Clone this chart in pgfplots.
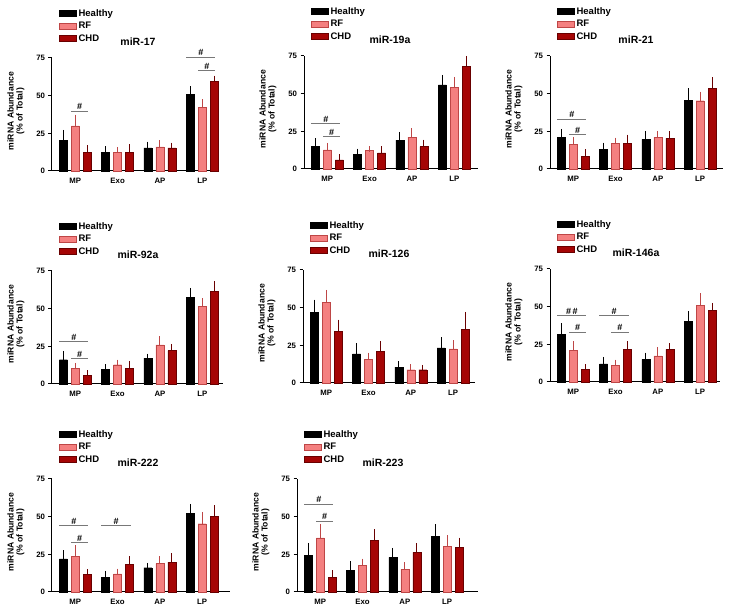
\documentclass[border=0pt]{standalone}
\usepackage{fontspec}
\setmainfont{Liberation Sans}
\usepackage{pgfplots}
\usepackage{pgfplotstable}
\pgfplotsset{compat=1.18}

\definecolor{rfc}{RGB}{244,128,128}
\definecolor{rfd}{RGB}{190,70,70}
\definecolor{chdc}{RGB}{165,5,5}
\definecolor{chdd}{RGB}{105,0,0}
\definecolor{sigc}{RGB}{120,120,120}

% columns: group, Healthy, err, RF, err, CHD, err
\pgfplotstableread{
x h he r re c ce
0 20.4 5.0 30.0 5.5 12.2 3.0
1 12.6 1.8 12.2 1.6 12.6 3.3
2 15.3 2.4 16.0 2.6 15.3 1.6
3 51.0 3.4 42.2 3.5 59.7 1.8
}\tabA
\pgfplotstableread{
x h he r re c ce
0 14.9 3.6 12.7 2.7 6.0 2.0
1 9.8 1.8 12.2 0.9 10.7 2.4
2 19.1 3.6 21.1 4.2 14.9 2.7
3 55.9 4.7 54.3 4.9 68.3 4.9
}\tabB
\pgfplotstableread{
x h he r re c ce
0 20.9 3.8 16.4 3.1 8.4 2.7
1 12.9 2.7 16.9 2.0 16.9 4.0
2 19.7 3.8 20.9 2.6 20.4 2.7
3 45.7 6.0 45.3 4.2 53.5 5.5
}\tabC
\pgfplotstableread{
x h he r re c ce
0 16.1 4.0 10.6 1.5 5.7 1.6
1 9.5 1.8 12.8 1.5 10.6 2.9
2 17.2 1.1 26.0 3.8 22.1 2.6
3 57.6 4.4 51.4 3.7 61.3 5.1
}\tabD
\pgfplotstableread{
x h he r re c ce
0 46.8 6.6 53.4 6.6 34.5 5.7
1 19.4 5.2 15.6 2.7 21.1 4.9
2 10.6 1.9 8.8 1.8 8.8 1.3
3 23.3 5.3 22.7 3.9 35.8 9.5
}\tabE
\pgfplotstableread{
x h he r re c ce
0 31.5 5.5 20.9 4.3 8.3 1.5
1 12.0 2.8 11.1 1.9 21.7 3.5
2 15.0 2.6 17.4 3.7 21.7 2.2
3 40.4 4.8 50.7 6.5 47.4 3.3
}\tabF
\pgfplotstableread{
x h he r re c ce
0 21.9 4.0 23.7 5.5 11.6 1.6
1 9.8 2.3 12.1 1.5 18.5 3.4
2 16.1 1.3 18.8 3.1 19.9 3.8
3 52.2 4.5 45.3 6.0 50.4 5.4
}\tabG
\pgfplotstableread{
x h he r re c ce
0 24.3 6.5 35.9 7.4 9.8 2.7
1 14.5 4.0 17.9 2.4 34.2 5.5
2 23.0 4.5 15.2 2.7 26.3 4.1
3 37.0 6.0 30.4 5.5 29.7 4.5
}\tabH

\pgfplotsset{
  panel/.style={
    anchor=south west, scale only axis, height=113pt,
    ymin=0, ymax=75, ytick={0,25,50,75},
    xmin=-0.55, xtick={0,1,2,3}, xticklabels={MP,Exo,AP,LP},
    axis x line*=bottom, axis y line*=left,
    axis line style={line width=1pt, black},
    xtick style={draw=none},
    ytick style={line width=1pt, black},
    tick align=outside, major tick length=3.5pt,
    /pgf/number format/assume math mode=true,
    tick label style={font=\fontsize{7.8}{8}\selectfont\bfseries},
    ylabel={miRNA Abundance\\(\% of Total)},
    ylabel style={align=center, font=\fontsize{8.6}{9}\selectfont\bfseries,
      at={(axis description cs:0,0.53)}, yshift=36pt, anchor=center},
    title style={at={(axis description cs:0,1)}, anchor=center, xshift=86pt,
      yshift=10pt, font=\fontsize{10.5}{11}\selectfont\bfseries},
    ybar=4pt, bar width=8pt, clip=false,
    error bars/y dir=plus, error bars/y explicit,
    error bars/error bar style={line width=1pt},
    error bars/error mark options={line width=1pt, mark size=2.8pt},
    legend image code/.code={\draw[##1] (0pt,-3pt) rectangle (17pt,3pt);},
    legend cell align=left,
    legend style={draw=none, fill=none, at={(axis description cs:0,1)},
      anchor=north west, xshift=7pt, yshift=49pt, inner sep=0pt,
      row sep=3.5pt, column sep=2pt,
      font=\fontsize{9.5}{10}\selectfont\bfseries,
      nodes={inner sep=0pt, text height=7pt, text depth=2pt}},
  },
  hbar/.style={fill=black, draw=black, error bars/error bar style={black}},
  rbar/.style={fill=rfc, draw=rfd, error bars/error bar style={rfd}},
  cbar/.style={fill=chdc, draw=chdd, error bars/error bar style={chdd}},
}

\newcommand{\bars}[1]{%
  \addplot[hbar] table[x=x, y=h, y error=he] {#1};
  \addplot[rbar] table[x=x, y=r, y error=re] {#1};
  \addplot[cbar] table[x=x, y=c, y error=ce] {#1};
  \legend{Healthy, RF, CHD}}
% Healthy vs CHD, and RF vs CHD
\newcommand{\sigBR}[3]{\draw[sigc, line width=1pt] (axis cs:{#1-0.38},#2) -- (axis cs:{#1+0.31},#2)
  node[midway, above, inner sep=1pt, black, font=\fontsize{9}{9}\selectfont\bfseries] {#3};}
\newcommand{\sigPR}[2]{\draw[sigc, line width=1pt] (axis cs:{#1-0.1},#2) -- (axis cs:{#1+0.31},#2)
  node[midway, above, inner sep=1pt, black, font=\fontsize{9}{9}\selectfont\bfseries] {\#};}

\begin{document}
\begin{tikzpicture}
\useasboundingbox (0pt,0pt) rectangle (729pt,609pt);

\begin{axis}[panel, at={(52pt,438pt)}, width=166pt, xmax=3.37, title={miR-17}]
\bars{\tabA}
\sigPR{0}{39.8}
\sigBR{3}{75.5}{\#}
\sigPR{3}{66.4}
\end{axis}

\begin{axis}[panel, at={(304pt,440pt)}, width=174pt, xmax=3.56, title={miR-19a}]
\bars{\tabB}
\sigBR{0}{30}{\#}
\sigPR{0}{21.4}
\end{axis}

\begin{axis}[panel, at={(550pt,440pt)}, width=173pt, xmax=3.54, title={miR-21}]
\bars{\tabC}
\sigBR{0}{33}{\#}
\sigPR{0}{22.6}
\end{axis}

\begin{axis}[panel, at={(52pt,225pt)}, width=171pt, xmax=3.49, title={miR-92a}]
\bars{\tabD}
\sigBR{0}{27.9}{\#}
\sigPR{0}{16.6}
\end{axis}

\begin{axis}[panel, at={(303pt,226pt)}, width=172pt, xmax=3.52, title={miR-126}]
\bars{\tabE}
\end{axis}

\begin{axis}[panel, at={(550pt,227pt)}, width=170pt, xmax=3.47, title={miR-146a}]
\bars{\tabF}
\sigBR{0}{44}{\#\,\#}
\sigPR{0}{32.9}
\sigBR{1}{44}{\#}
\sigPR{1}{32.9}
\end{axis}

\begin{axis}[panel, at={(52pt,17pt)}, width=178pt, xmax=3.66, title={miR-222}]
\bars{\tabG}
\sigBR{0}{44}{\#}
\sigPR{0}{32.8}
\sigBR{1}{44}{\#}
\end{axis}

\begin{axis}[panel, at={(297pt,17pt)}, width=181pt, xmax=3.73, title={miR-223}]
\bars{\tabH}
\sigBR{0}{58.3}{\#}
\sigPR{0}{46.9}
\end{axis}
\end{tikzpicture}
\end{document}
